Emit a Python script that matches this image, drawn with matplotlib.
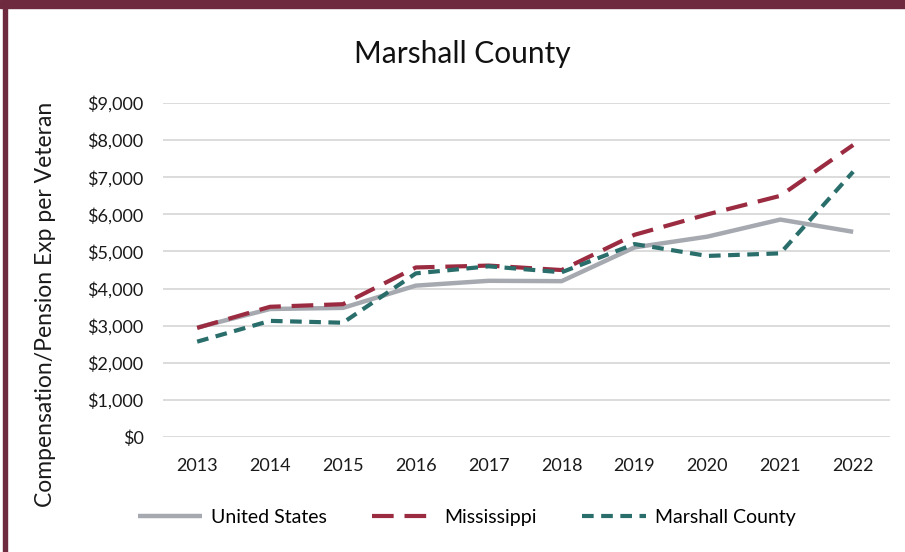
import matplotlib
matplotlib.use("Agg")
import matplotlib.pyplot as plt
from matplotlib.patches import Rectangle

# data
years = [2013, 2014, 2015, 2016, 2017, 2018, 2019, 2020, 2021, 2022]
us_vals = [2950, 3450, 3480, 4080, 4210, 4200, 5110, 5400, 5860, 5530]
ms_vals = [2940, 3510, 3580, 4570, 4620, 4500, 5450, 6000, 6500, 7870]
marshall_vals = [2570, 3130, 3080, 4410, 4600, 4440, 5200, 4880, 4950, 7150]
yticks = list(range(0, 10000, 1000))

plt.rcParams['font.family'] = ['Lato', 'DejaVu Sans']

fig = plt.figure(figsize=(9.05, 5.52), dpi=100)
ax = fig.add_axes([0.180, 0.2083, 0.803, 0.605])

ax.plot(years, us_vals, color='#A6AAB0', lw=3.2, label='United States', solid_capstyle='butt')
ax.plot(years, ms_vals, color='#9B2B40', lw=3.0, label='Mississippi', dashes=(5.2, 2.6))
ax.plot(years, marshall_vals, color='#2A6E6B', lw=3.0, label='Marshall County', dashes=(2.8, 1.8))

ax.set_ylim(0, 9000)
ax.set_xlim(2012.53, 2022.5)
ax.set_yticks(yticks)
ax.set_yticklabels([f'${v:,}' for v in yticks])
ax.set_xticks(years)
ax.set_xticklabels([str(y) for y in years])
ax.tick_params(length=0, labelsize=13, colors='#1a1a1a')
ax.tick_params(axis='y', pad=14)
ax.tick_params(axis='x', pad=15)
ax.grid(axis='y', color='#DCDCDC', lw=1.4)
ax.set_axisbelow(True)
for s in ax.spines.values():
    s.set_visible(False)

fig.text(0.050, 0.448, 'Compensation/Pension Exp per Veteran', rotation=90,
         ha='center', va='center', fontsize=16.5, color='#1a1a1a')
fig.text(0.511, 0.903, 'Marshall County', ha='center', va='center', fontsize=21.5, color='#111111')

leg = ax.legend(loc='center', bbox_to_anchor=(0.418, -0.24), ncol=3, frameon=False,
                fontsize=14, handlelength=3.3, columnspacing=2.3, handletextpad=0.45)

# maroon frame at top and left
fig.patches.append(Rectangle((0, 1 - 8 / 552), 1, 8 / 552, transform=fig.transFigure,
                             color='#6E2B3F', zorder=10))
fig.patches.append(Rectangle((3 / 905, 0), 4 / 905, 1, transform=fig.transFigure,
                             color='#6E2B3F', zorder=10))

fig.savefig('out.png', dpi=100)
